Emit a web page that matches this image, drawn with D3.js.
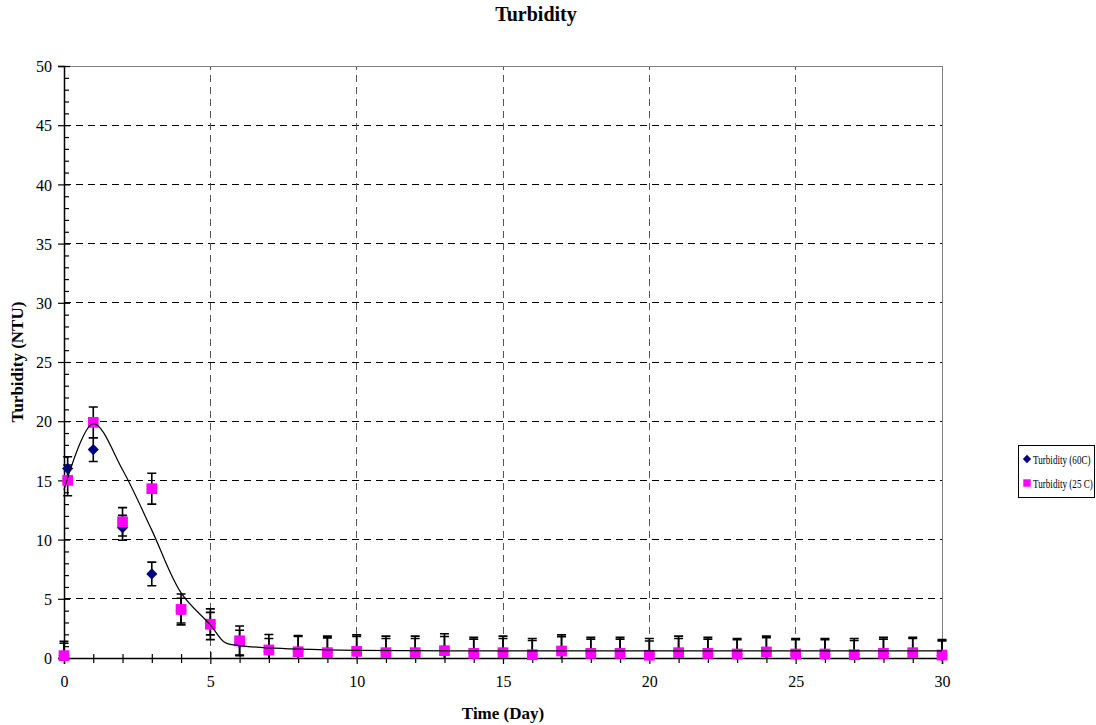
<!DOCTYPE html>
<html>
<head>
<meta charset="utf-8">
<script src="https://cdn.jsdelivr.net/npm/d3@7"></script>
<style>
  body { margin: 0; background: #fff; }
  svg text { font-family: "Liberation Serif", "DejaVu Serif", serif; }
</style>
</head>
<body>
<svg id="chart" width="1096" height="725"></svg>
<script>
// sample times (day), 0.125 = first reading a few hours in
var days = [0, 0.125, 1, 2, 3, 4, 5, 6, 7, 8, 9, 10, 11, 12, 13, 14, 15, 16, 17, 18, 19, 20, 21, 22, 23, 24, 25, 26, 27, 28, 29, 30];
var turb60 = [0.2, 16.0, 17.6, 11.0, 7.1, 4.0, 2.9, 1.3, 0.6, 0.6, 0.5, 0.6, 0.5, 0.5, 0.7, 0.4, 0.5, 0.3, 0.6, 0.4, 0.4, 0.3, 0.5, 0.4, 0.3, 0.5, 0.3, 0.3, 0.3, 0.4, 0.4, 0.2];
var err60 = [1.2, 1.0, 1.0, 1.05, 1.0, 1.05, 0.95, 1.05, 1.05, 1.3, 1.35, 1.35, 1.35, 1.35, 1.35, 1.35, 1.35, 1.35, 1.35, 1.35, 1.35, 1.35, 1.35, 1.35, 1.35, 1.35, 1.35, 1.35, 1.35, 1.35, 1.35, 1.35];
var turb25 = [0.2, 15.0, 19.9, 11.5, 14.3, 4.1, 2.85, 1.45, 0.68, 0.53, 0.45, 0.56, 0.45, 0.45, 0.62, 0.39, 0.45, 0.28, 0.59, 0.39, 0.39, 0.23, 0.45, 0.39, 0.34, 0.51, 0.34, 0.34, 0.28, 0.39, 0.45, 0.25];
var err25 = [1.05, 1.3, 1.3, 1.2, 1.3, 1.3, 1.3, 1.25, 1.3, 1.3, 1.25, 1.25, 1.2, 1.2, 1.2, 1.2, 1.2, 1.2, 1.2, 1.2, 1.2, 1.2, 1.2, 1.2, 1.2, 1.2, 1.2, 1.2, 1.2, 1.2, 1.2, 1.2];

// smoothed trend line
var fitDays = [0, 1, 2, 3, 4, 5, 5.5, 6, 7, 8, 10, 15, 20, 25, 30];
var fitVals = [14.2, 19.8, 15.9, 10.8, 5.5, 2.8, 1.3, 1.05, 0.85, 0.75, 0.65, 0.6, 0.6, 0.6, 0.6];

var xTicks = [0, 5, 10, 15, 20, 25, 30];
var yTicks = [0, 5, 10, 15, 20, 25, 30, 35, 40, 45, 50];

var seriesNames = ["Turbidity (60C)", "Turbidity (25 C)"];
var seriesColors = ["#000080", "#FF00FF"];

var svg = d3.select("#chart");
var margin = {left: 64, right: 154, top: 66, bottom: 67};
var W = 1096, H = 725;

var x = d3.scaleLinear().domain([0, 30]).range([margin.left, W - margin.right]);
var y = d3.scaleLinear().domain([0, 50]).range([H - margin.bottom, margin.top]);

// error bars are cut at the plot floor / ceiling, markers are not
svg.append("defs").append("clipPath").attr("id", "plotclip")
  .append("rect")
  .attr("x", x(0) - 20).attr("y", y(50))
  .attr("width", x(30) - x(0) + 40).attr("height", y(0) - y(50));

// gridlines
svg.append("g").selectAll("line").data(yTicks.filter(function(d) { return d > 0 && d < 50; }))
  .enter().append("line")
  .attr("x1", x(0)).attr("x2", x(30))
  .attr("y1", function(d) { return y(d); }).attr("y2", function(d) { return y(d); })
  .attr("stroke", "#000").attr("stroke-width", 1).attr("stroke-dasharray", "7,5")
  .attr("shape-rendering", "crispEdges");

svg.append("g").selectAll("line").data(xTicks.filter(function(d) { return d > 0 && d < 30; }))
  .enter().append("line")
  .attr("y1", y(0)).attr("y2", y(50))
  .attr("x1", function(d) { return x(d); }).attr("x2", function(d) { return x(d); })
  .attr("stroke", "#555").attr("stroke-width", 1).attr("stroke-dasharray", "7,5")
  .attr("shape-rendering", "crispEdges");

// plot border top/right
svg.append("path")
  .attr("d", "M" + x(0) + "," + y(50) + "H" + x(30) + "V" + y(0))
  .attr("fill", "none").attr("stroke", "#808080").attr("stroke-width", 1)
  .attr("shape-rendering", "crispEdges");

// axes
var yAxis = d3.axisLeft(y).tickValues(yTicks).tickSize(6).tickPadding(6);
var gy = svg.append("g").attr("transform", "translate(" + x(0) + ",0)").call(yAxis);
gy.selectAll(".tick line").attr("x2", -6).attr("x1", 6);
svg.append("g").attr("transform", "translate(" + x(0) + ",0)")
  .call(d3.axisLeft(y).tickValues(d3.range(0, 51).filter(function(d) { return d % 5; })).tickSize(-5).tickFormat(""))
  .call(function(g) { g.select(".domain").remove(); });

var xAxis = d3.axisBottom(x).tickValues(xTicks).tickSize(6).tickPadding(16);
var gx = svg.append("g").attr("transform", "translate(0," + y(0) + ")").call(xAxis);
gx.selectAll(".tick line").attr("y1", -6).attr("y2", 6);
svg.append("g").attr("transform", "translate(0," + y(0) + ")")
  .call(d3.axisBottom(x).tickValues(d3.range(0, 31).filter(function(d) { return d % 5; })).tickSize(5).tickFormat(""))
  .call(function(g) { g.select(".domain").remove(); g.selectAll(".tick line").attr("y1", -4); });

svg.selectAll(".domain").attr("stroke", "#000").attr("stroke-width", 1.5);
svg.selectAll(".tick line").attr("stroke", "#000").attr("stroke-width", 1.2);
svg.selectAll(".tick text").attr("font-family", "Liberation Serif, serif").attr("font-size", 16).attr("fill", "#000");
gx.selectAll(".tick text").attr("dy", "0.45em");
gy.selectAll(".tick text").attr("dy", "0.35em");

// data layer
var errLayer = svg.append("g").attr("clip-path", "url(#plotclip)");
var markLayer = svg.append("g");

// diamond = square turned 45 degrees (Excel style)
var series = [
  {name: seriesNames[0], vals: turb60, errs: err60, color: seriesColors[0], rot: 45, size: 62},
  {name: seriesNames[1], vals: turb25, errs: err25, color: seriesColors[1], rot: 0, size: 115}
];

series.forEach(function(s) {
  var g = errLayer.append("g");
  var cap = 4.5;
  days.forEach(function(d, i) {
    var top = y(s.vals[i] + s.errs[i]), bot = y(s.vals[i] - s.errs[i]), cx = x(d);
    g.append("path")
      .attr("d", "M" + cx + "," + top + "V" + bot +
        "M" + (cx - cap) + "," + top + "H" + (cx + cap) +
        "M" + (cx - cap) + "," + bot + "H" + (cx + cap))
      .attr("stroke", "#000").attr("stroke-width", 1.6).attr("fill", "none");
  });
});

series.forEach(function(s) {
  markLayer.append("g").selectAll("path").data(days)
    .enter().append("path")
    .attr("transform", function(d, i) { return "translate(" + x(d) + "," + y(s.vals[i]) + ") rotate(" + s.rot + ")"; })
    .attr("d", d3.symbol().type(d3.symbolSquare).size(s.size))
    .attr("fill", s.color);
});

var fitLine = d3.line()
  .x(function(d) { return x(d); })
  .y(function(d, i) { return y(fitVals[i]); })
  .curve(d3.curveCatmullRom.alpha(0.5));

svg.append("path").datum(fitDays)
  .attr("d", fitLine)
  .attr("fill", "none").attr("stroke", "#000").attr("stroke-width", 1.2);

// titles
svg.append("text").attr("x", 536).attr("y", 21).attr("text-anchor", "middle")
  .attr("font-size", 20).attr("font-weight", "bold").text("Turbidity");
svg.append("text").attr("x", x(15)).attr("y", 719).attr("text-anchor", "middle")
  .attr("font-size", 17).attr("font-weight", "bold").text("Time (Day)");
svg.append("text").attr("transform", "translate(23," + y(25) + ") rotate(-90)").attr("text-anchor", "middle")
  .attr("font-size", 17).attr("font-weight", "bold").text("Turbidity (NTU)");

// legend (text drawn narrow, as in the original)
var lg = svg.append("g").attr("transform", "translate(1018,445)");
lg.append("rect").attr("width", 76).attr("height", 52)
  .attr("fill", "#fff").attr("stroke", "#000").attr("stroke-width", 1)
  .attr("shape-rendering", "crispEdges");
series.forEach(function(s, i) {
  var row = lg.append("g").attr("transform", "translate(0," + (14 + i * 24) + ")");
  row.append("path").attr("transform", "translate(9,0) rotate(" + s.rot + ")")
    .attr("d", d3.symbol().type(d3.symbolSquare).size(i === 1 ? 55 : 35))
    .attr("fill", s.color);
  row.append("text").attr("transform", "translate(15,4.5) scale(0.7,1)")
    .attr("font-size", 13)
    .text(s.name);
});
</script>
</body>
</html>
